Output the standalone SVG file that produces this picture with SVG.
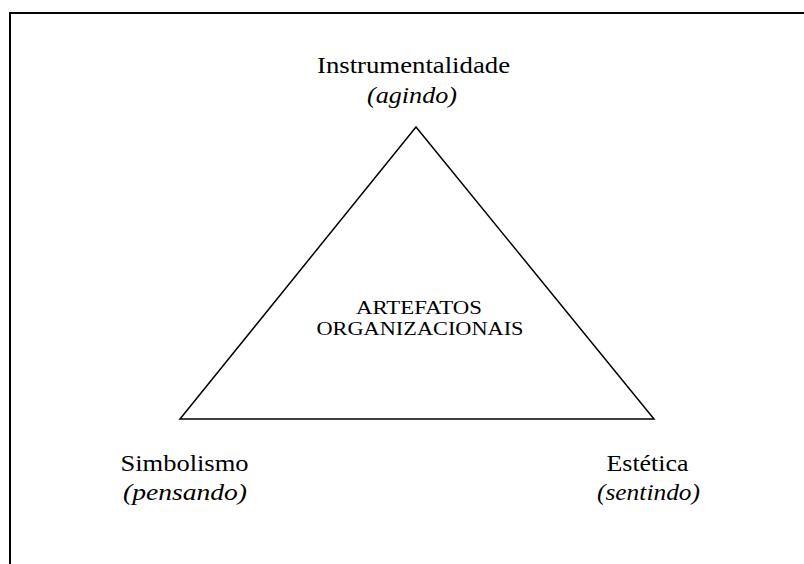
<svg xmlns="http://www.w3.org/2000/svg" width="804" height="564" viewBox="0 0 804 564">
<style>
.t{font-family:"Liberation Serif","Times New Roman",Times,serif;fill:#000;text-anchor:middle}
.lbl{font-size:24px}
.it{font-size:24px;font-style:italic}
.c{font-size:19px}
</style>
<rect width="804" height="564" fill="#fff"/>
<g id="frame" stroke="#000" stroke-width="2" fill="none">
<path d="M10,564 V13 H804"/>
</g>
<g id="connectors">
<polygon id="triangle" points="416,127 180,419 654,419" fill="none" stroke="#000" stroke-width="1.5" stroke-linejoin="miter"/>
</g>
<g id="center">
<text class="t c" x="419" y="314" textLength="126" lengthAdjust="spacingAndGlyphs">ARTEFATOS</text>
<text class="t c" x="420" y="335" textLength="207" lengthAdjust="spacingAndGlyphs">ORGANIZACIONAIS</text>
</g>
<g id="instrumentalidade">
<text class="t lbl" x="413.5" y="73" textLength="193" lengthAdjust="spacingAndGlyphs">Instrumentalidade</text>
<text class="t it" x="412" y="103" textLength="90" lengthAdjust="spacingAndGlyphs">(agindo)</text>
</g>
<g id="simbolismo">
<text class="t lbl" x="184.5" y="471" textLength="128" lengthAdjust="spacingAndGlyphs">Simbolismo</text>
<text class="t it" x="185" y="500" textLength="124" lengthAdjust="spacingAndGlyphs">(pensando)</text>
</g>
<g id="estetica">
<text class="t lbl" x="647.5" y="471" textLength="82" lengthAdjust="spacingAndGlyphs">Estética</text>
<text class="t it" x="648.5" y="500" textLength="103" lengthAdjust="spacingAndGlyphs">(sentindo)</text>
</g>
</svg>
